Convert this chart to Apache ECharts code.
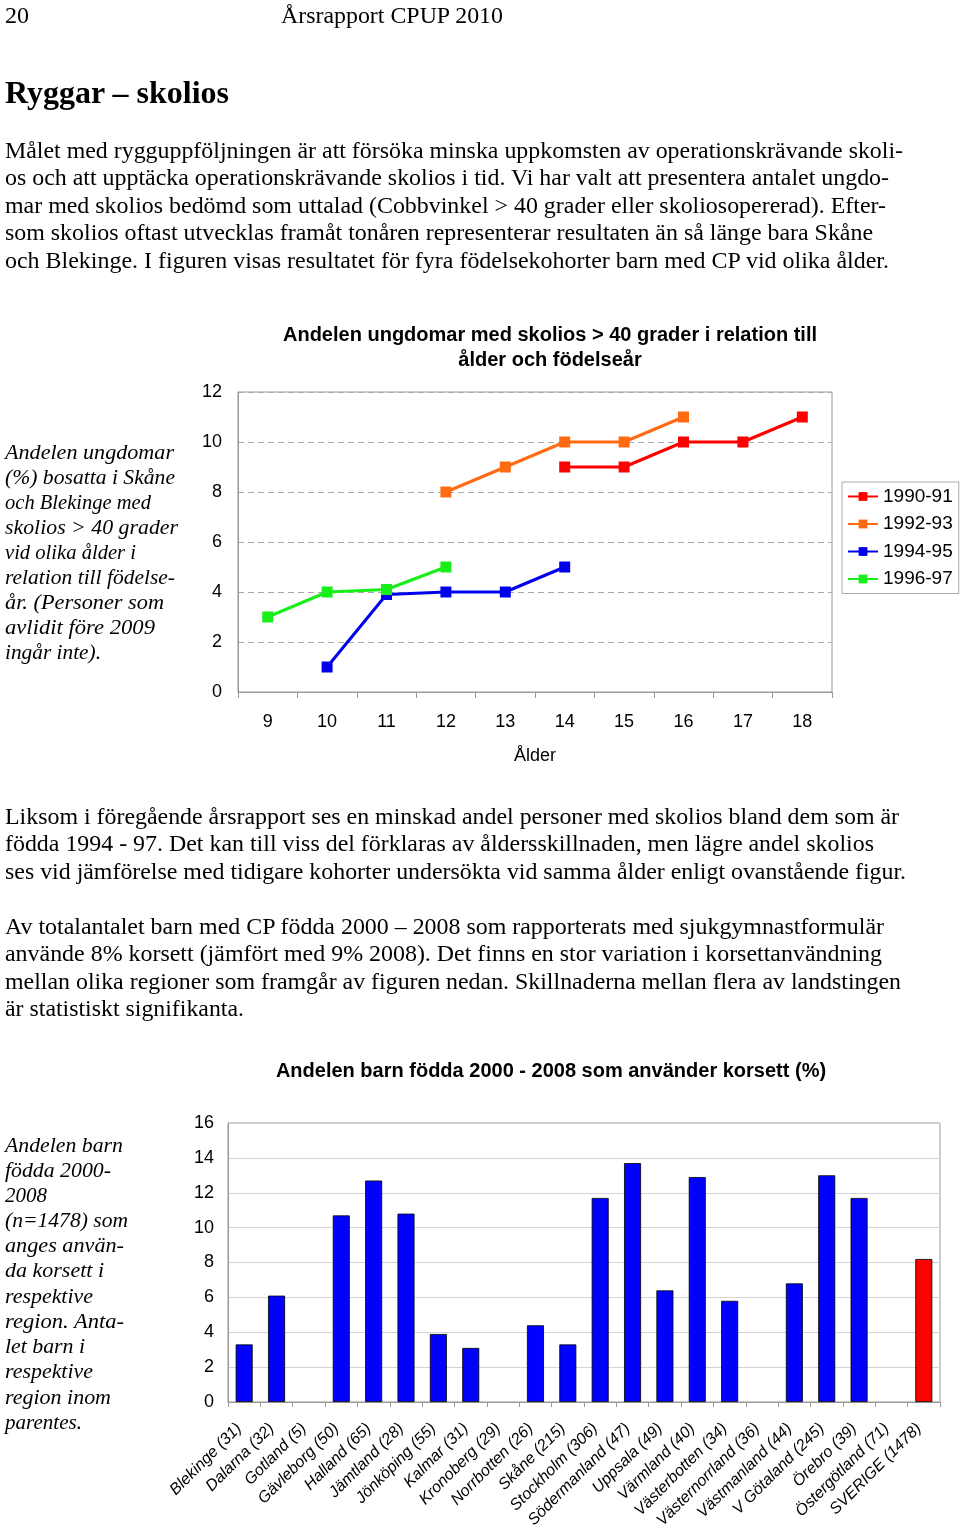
<!DOCTYPE html>
<html><head><meta charset="utf-8">
<script src="https://cdn.jsdelivr.net/npm/echarts@6/dist/echarts.min.js"></script>
<style>
html,body{margin:0;padding:0;background:#fff;}
#page{position:relative;width:960px;height:1525px;overflow:hidden;background:#fff;}
#chart{position:absolute;left:0;top:0;width:960px;height:1525px;}
.t{position:absolute;white-space:nowrap;font-family:'Liberation Serif','Times New Roman',serif;color:#000;transform-origin:0 50%;}
.body{font-size:24px;line-height:28px;height:28px;}
.head{font-size:32px;font-weight:bold;line-height:36px;height:36px;}
.side{font-size:21px;font-style:italic;line-height:25px;height:25px;}
</style></head>
<body><div id="page"><div id="chart"></div></div>
<script>
// ---- Chart 1 data: scoliosis > 40 degrees by age and birth cohort ----
const ages = ['9','10','11','12','13','14','15','16','17','18'];
const cohortNames = ['1990-91','1992-93','1994-95','1996-97'];
const cohort1990 = [null,null,null,null,null,9,9,10,10,11];
const cohort1992 = [null,null,null,8,9,10,10,11,null,null];
const cohort1994 = [null,1,3.9,4,4,5,null,null,null,null];
const cohort1996 = [3,4,4.1,5,null,null,null,null,null,null];
const cohortColors = ['#ff0000','#ff6a13','#0000ee','#18ee18'];

// ---- Chart 2 data: share of children born 2000-2008 using a brace (%) ----
const regions = ['Blekinge (31)','Dalarna (32)','Gotland (5)','Gävleborg (50)','Halland (65)','Jämtland (28)','Jönköping (55)','Kalmar (31)','Kronoberg (29)','Norrbotten (26)','Skåne (215)','Stockholm (306)','Södermanland (47)','Uppsala (49)','Värmland (40)','Västerbotten (34)','Västernorrland (36)','Västmanland (44)','V Götaland (245)','Örebro (39)','Östergötland (71)','SVERIGE (1478)'];
const korsett = [3.3,6.1,0,10.7,12.7,10.8,3.9,3.1,0,4.4,3.3,11.7,13.7,6.4,12.9,5.8,0,6.8,13.0,11.7,0,8.2];
const totalLabel = 'SVERIGE (1478)';

// ---- Page text ----
const pageLines = [
 ['20',5,15,24,'body'],
 ['Årsrapport CPUP 2010',281,15,222,'body'],
 ['Ryggar – skolios',5,92,224,'head'],
 ['Målet med rygguppföljningen är att försöka minska uppkomsten av operationskrävande skoli-',5,150,898,'body'],
 ['os och att upptäcka operationskrävande skolios i tid. Vi har valt att presentera antalet ungdo-',5,177,884,'body'],
 ['mar med skolios bedömd som uttalad (Cobbvinkel > 40 grader eller skoliosopererad). Efter-',5,205,881,'body'],
 ['som skolios oftast utvecklas framåt tonåren representerar resultaten än så länge bara Skåne',5,232,868,'body'],
 ['och Blekinge. I figuren visas resultatet för fyra födelsekohorter barn med CP vid olika ålder.',5,260,884,'body'],
 ['Liksom i föregående årsrapport ses en minskad andel personer med skolios bland dem som är',5,816,894,'body'],
 ['födda 1994 - 97. Det kan till viss del förklaras av åldersskillnaden, men lägre andel skolios',5,843,869,'body'],
 ['ses vid jämförelse med tidigare kohorter undersökta vid samma ålder enligt ovanstående figur.',5,871,901,'body'],
 ['Av totalantalet barn med CP födda 2000 – 2008 som rapporterats med sjukgymnastformulär',5,926,879,'body'],
 ['använde 8% korsett (jämfört med 9% 2008). Det finns en stor variation i korsettanvändning',5,953,877,'body'],
 ['mellan olika regioner som framgår av figuren nedan. Skillnaderna mellan flera av landstingen',5,981,896,'body'],
 ['är statistiskt signifikanta.',5,1008,239,'body'],
 ['Andelen ungdomar',5,452,169,'side'],
 ['(%) bosatta i Skåne',5,477,170,'side'],
 ['och Blekinge med',5,502,146,'side'],
 ['skolios > 40 grader',5,527,173,'side'],
 ['vid olika ålder i',5,552,131,'side'],
 ['relation till födelse-',5,577,170,'side'],
 ['år. (Personer som',5,602,159,'side'],
 ['avlidit före 2009',5,627,150,'side'],
 ['ingår inte).',5,652,96,'side'],
 ['Andelen barn',5,1145,118,'side'],
 ['födda 2000-',5,1170,106,'side'],
 ['2008',5,1195,42,'side'],
 ['(n=1478) som',5,1220,123,'side'],
 ['anges använ-',5,1245,119,'side'],
 ['da korsett i',5,1270,99,'side'],
 ['respektive',5,1296,88,'side'],
 ['region. Anta-',5,1321,119,'side'],
 ['let barn i',5,1346,80,'side'],
 ['respektive',5,1371,88,'side'],
 ['region inom',5,1397,106,'side'],
 ['parentes.',5,1422,77,'side']
];
const page = document.getElementById('page');
pageLines.forEach(([txt,x,y,w,cls])=>{
  const d=document.createElement('div');
  d.className='t '+cls;
  d.textContent=txt;
  const lh = cls==='head'?36:(cls==='side'?25:28);
  d.style.left=x+'px';
  d.style.top=(y-lh/2)+'px';
  page.appendChild(d);
  const mw=d.getBoundingClientRect().width;
  if(mw>0){
    let s=w/mw;
    if(s>0.8&&s<1.25) d.style.transform='scaleX('+s.toFixed(4)+')';
  }
});

const sansFont = "'Liberation Sans', Arial, sans-serif";
const cohortData=[cohort1990,cohort1992,cohort1994,cohort1996];
const lineSeries = cohortNames.map((n,i)=>({
  name:n, type:'line', xAxisIndex:0, yAxisIndex:0,
  data:cohortData[i], symbol:'rect', symbolSize:11,
  lineStyle:{width:3,color:cohortColors[i]},
  itemStyle:{color:cohortColors[i]},
  emphasis:{disabled:true}
}));

const barData = korsett.map((v,i)=>{
  if(regions[i]===totalLabel) return {value:v,itemStyle:{color:'#ff0000'}};
  if(v===0) return {value:v,itemStyle:{borderWidth:0}};
  return v;
});

const chart = echarts.init(document.getElementById('chart'),null,{renderer:'canvas'});
chart.setOption({
  animation:false,
  textStyle:{fontFamily:sansFont,color:'#000'},
  graphic:[
    {type:'text',x:550,y:348,style:{text:'Andelen ungdomar med skolios > 40 grader i relation till\nålder och födelseår',align:'center',verticalAlign:'middle',lineHeight:25,font:"bold 20px 'Liberation Sans', Arial, sans-serif",fill:'#000'}},
    {type:'text',x:551,y:1071,style:{text:'Andelen barn födda 2000 - 2008 som använder korsett (%)',align:'center',verticalAlign:'middle',font:"bold 20px 'Liberation Sans', Arial, sans-serif",fill:'#000'}}
  ],
  legend:{
    data:cohortNames, orient:'vertical', left:842, top:482,
    itemWidth:30, itemHeight:11, itemGap:8.5,
    padding:[5,6,5,5], borderColor:'#aaa', borderWidth:1,
    textStyle:{fontSize:19,color:'#000',fontFamily:sansFont},
    selectedMode:false
  },
  grid:[
    {left:238,top:392,width:594,height:300,show:true,borderColor:'#999',borderWidth:1,containLabel:false,outerBoundsMode:'none'},
    {left:228,top:1123,width:712,height:279,show:true,borderColor:'#999',borderWidth:1,containLabel:false,outerBoundsMode:'none'}
  ],
  xAxis:[
    {type:'category',gridIndex:0,data:ages,boundaryGap:true,
     axisLine:{lineStyle:{color:'#999'}},
     axisTick:{show:true,length:6,lineStyle:{color:'#999'}},
     axisLabel:{fontSize:18,color:'#000',margin:21},
     name:'Ålder',nameLocation:'middle',nameGap:55,nameTextStyle:{fontSize:18,color:'#000'}},
    {type:'category',gridIndex:1,data:regions,boundaryGap:true,
     axisLine:{lineStyle:{color:'#999'}},
     axisTick:{show:true,length:5,lineStyle:{color:'#999'}},
     axisLabel:{fontSize:16,fontStyle:'italic',color:'#000',rotate:45,interval:0,margin:19,padding:[0,7,0,0]}}
  ],
  yAxis:[
    {type:'value',gridIndex:0,min:0,max:12,interval:2,
     axisLine:{show:true,lineStyle:{color:'#999'}},axisTick:{show:false},
     axisLabel:{fontSize:18,color:'#000',margin:16},
     splitLine:{lineStyle:{color:'#aaa',type:[6,4],width:1}}},
    {type:'value',gridIndex:1,min:0,max:16,interval:2,
     axisLine:{show:true,lineStyle:{color:'#999'}},axisTick:{show:false},
     axisLabel:{fontSize:18,color:'#000',margin:14},
     splitLine:{lineStyle:{color:'#d4d4d4',width:1}}}
  ],
  series:[...lineSeries,
    {type:'bar',xAxisIndex:1,yAxisIndex:1,data:barData,barWidth:17,
     itemStyle:{color:'#0000ff',borderColor:'#000',borderWidth:0.8},
     emphasis:{disabled:true}}
  ]
});
</script></body></html>
